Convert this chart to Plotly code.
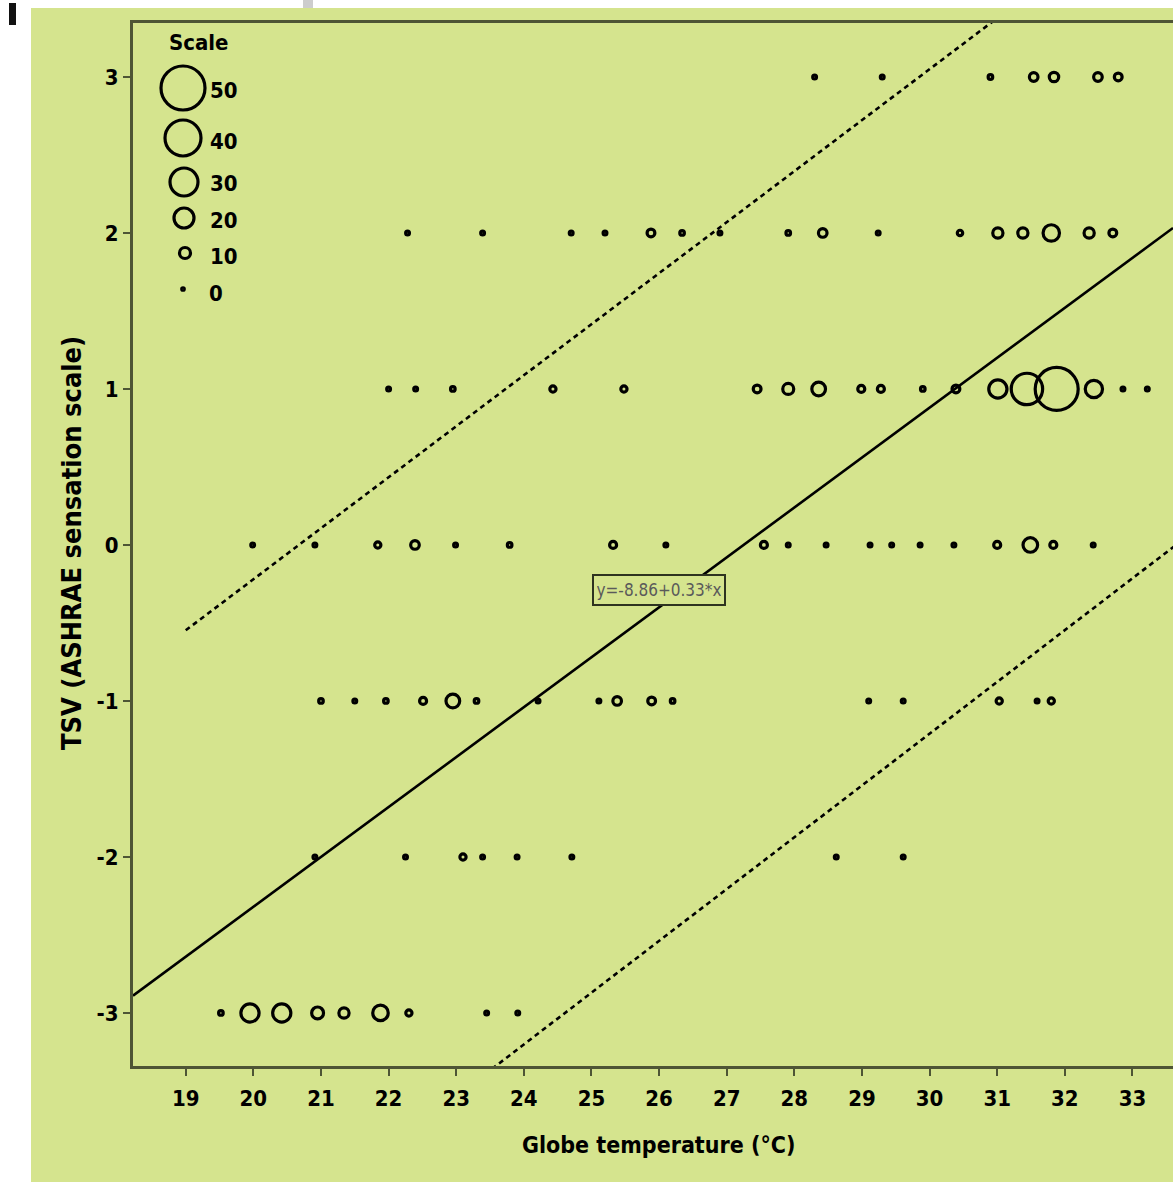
import numpy as np
import plotly.graph_objects as go

W, H = 1173, 1182

# ---------------- data ----------------
tsv_levels = [3, 2, 1, 0, -1, -2, -3]
tsv_tick_text = ["3", "2", "1", "0", "-1", "-2", "-3"]
x_ticks = list(range(19, 34))

temps_p3 = [28.3, 29.3, 30.9, 31.54, 31.84, 32.49, 32.79]
counts_p3 = [1, 1, 2, 7, 8, 7, 6]

temps_p2 = [22.28, 23.39, 24.70, 25.20, 25.88, 26.34, 26.90, 27.91, 28.42, 29.24,
            30.45, 31.01, 31.38, 31.80, 32.36, 32.71]
counts_p2 = [1, 1, 1, 1, 6, 2, 1, 2, 7, 1, 3, 9, 9, 16, 9, 6]

temps_p1 = [22.00, 22.40, 22.95, 24.43, 25.48, 27.45, 27.91, 28.36, 28.99, 29.28,
            29.90, 30.39, 31.01, 31.44, 31.88, 32.43, 32.86, 33.22]
counts_p1 = [1, 1, 2, 4, 4, 6, 10, 13, 5, 5, 2, 6, 18, 33, 50, 17, 1, 1]

temps_0 = [19.99, 20.91, 21.84, 22.39, 22.99, 23.79, 25.32, 26.10, 27.55, 27.91,
           28.47, 29.12, 29.44, 29.86, 30.36, 31.00, 31.49, 31.83, 32.42]
counts_0 = [1, 1, 4, 7, 1, 2, 5, 1, 5, 1, 1, 1, 1, 1, 1, 5, 14, 5, 1]

temps_m1 = [21.00, 21.50, 21.96, 22.51, 22.95, 23.30, 24.21, 25.11, 25.38, 25.89,
            26.20, 29.10, 29.61, 31.03, 31.59, 31.80]
counts_m1 = [2, 1, 2, 5, 13, 2, 1, 1, 7, 6, 2, 1, 1, 4, 1, 4]

temps_m2 = [20.91, 22.25, 23.10, 23.39, 23.90, 24.71, 28.62, 29.61]
counts_m2 = [1, 1, 4, 1, 1, 1, 1, 1]

temps_m3 = [19.52, 19.95, 20.42, 20.95, 21.34, 21.88, 22.30, 23.45, 23.91]
counts_m3 = [2, 18, 18, 11, 9, 15, 4, 1, 1]

# fitted line (as drawn) and the two interval lines
fit_intercept, fit_slope = -8.72, 0.32
upper_intercept, upper_slope = -6.76, 0.327
lower_intercept, lower_slope = -11.17, 0.332
fit_label = "y=-8.86+0.33*x"

scale_counts = [50, 40, 30, 20, 10, 0]
scale_labels = ["50", "40", "30", "20", "10", "0"]

# ---------------- style ----------------
GREEN = "#d5e48e"
INK = "#000000"
AXIS = "#4e5535"
FONT = "Liberation Sans Narrow, DejaVu Sans Condensed, Liberation Sans, Arial"
size_counts = [0, 10, 20, 30, 40, 50]
size_diam = [3, 11, 20, 29, 37, 43]
MLW = 3.2


def diam(c):
    return list(np.interp(c, size_counts, size_diam))


def px(x):
    return x / W


def py(y):
    return 1 - y / H


x_lo, x_hi = 18.22, 33.6
y_lo, y_hi = -3.34, 3.346

fig = go.Figure()

rows = [
    (3, temps_p3, counts_p3), (2, temps_p2, counts_p2), (1, temps_p1, counts_p1),
    (0, temps_0, counts_0), (-1, temps_m1, counts_m1), (-2, temps_m2, counts_m2),
    (-3, temps_m3, counts_m3),
]
for lvl, t, c in rows:
    fig.add_trace(go.Scatter(
        x=t, y=[lvl] * len(t), mode="markers",
        marker=dict(symbol="circle", size=diam(c), color="rgba(0,0,0,0)",
                    opacity=1, line=dict(width=MLW, color=INK)),
        showlegend=False, hoverinfo="skip"))

# lines
xs_fit = np.array([x_lo, x_hi])
fig.add_trace(go.Scatter(x=xs_fit, y=fit_intercept + fit_slope * xs_fit, mode="lines",
                         line=dict(color=INK, width=2.6), showlegend=False))
xs_up = np.array([19.0, 34.0])
fig.add_trace(go.Scatter(x=xs_up, y=upper_intercept + upper_slope * xs_up, mode="lines",
                         line=dict(color=INK, width=2.6, dash="5px,4px"), showlegend=False))
xs_low = np.array([23.0, 34.0])
fig.add_trace(go.Scatter(x=xs_low, y=lower_intercept + lower_slope * xs_low, mode="lines",
                         line=dict(color=INK, width=2.6, dash="5px,4px"), showlegend=False))

# scale legend on a pixel-coordinate overlay subplot
leg_x = [183, 183, 184, 184, 185, 183]
leg_y = [88, 138, 182, 218, 253, 289]
fig.add_trace(go.Scatter(
    x=leg_x, y=leg_y, xaxis="x2", yaxis="y2", mode="markers",
    marker=dict(symbol="circle", size=[44, 36, 28, 20, 11, 2.5], color="rgba(0,0,0,0)",
                opacity=1, line=dict(width=MLW, color=INK)),
    showlegend=False, hoverinfo="skip", cliponaxis=False))

ann = []
ann.append(dict(x=px(199), y=py(43), xref="paper", yref="paper", text="Scale",
                xanchor="center", yanchor="middle", showarrow=False,
                font=dict(family=FONT, size=22, color=INK, weight="bold")))
lab_pos = [(224, 91), (224, 142), (224, 184), (224, 220), (224, 256), (216, 293)]
for (lx, ly), s in zip(lab_pos, scale_labels):
    ann.append(dict(x=px(lx), y=py(ly), xref="paper", yref="paper", text=s,
                    xanchor="center", yanchor="middle", showarrow=False,
                    font=dict(family=FONT, size=22, color=INK, weight="bold")))

ann.append(dict(x=px(658), y=py(1145), xref="paper", yref="paper",
                text="Globe temperature (°C)", showarrow=False,
                xanchor="center", yanchor="middle",
                font=dict(family=FONT, size=23, color=INK, weight="bold")))
ann.append(dict(x=px(71), y=py(543), xref="paper", yref="paper",
                text="TSV (ASHRAE sensation scale)", showarrow=False, textangle=-90,
                xanchor="center", yanchor="middle",
                font=dict(family=FONT, size=27, color=INK, weight="bold")))
ann.append(dict(x=px(659), y=py(590), xref="paper", yref="paper", text=fit_label,
                xanchor="center", yanchor="middle",
                showarrow=False, width=124, height=22, borderpad=3,
                bordercolor="#2e3320", borderwidth=2, bgcolor=GREEN,
                font=dict(family=FONT, size=17, color="#5a5a5a")))

shapes = [
    dict(type="rect", xref="paper", yref="paper", x0=px(31), x1=1, y0=0, y1=py(8),
         fillcolor=GREEN, line=dict(width=0), layer="below"),
    dict(type="rect", xref="paper", yref="paper", x0=px(303), x1=px(313), y0=py(8), y1=1,
         fillcolor="#cdcdcd", line=dict(width=0), layer="below"),
    dict(type="rect", xref="paper", yref="paper", x0=px(9), x1=px(16), y0=py(25), y1=py(3),
         fillcolor="#111111", line=dict(width=0), layer="below"),
]

tickfont = dict(family=FONT, size=22, color=INK, weight="bold")
fig.update_layout(
    width=W, height=H, margin=dict(l=0, r=0, t=0, b=0),
    paper_bgcolor="white", plot_bgcolor="rgba(0,0,0,0)",
    showlegend=False, annotations=ann, shapes=shapes,
    xaxis=dict(domain=[px(133), 1], range=[x_lo, x_hi], tickmode="array",
               tickvals=x_ticks, ticktext=[str(v) for v in x_ticks],
               ticks="outside", ticklen=7, tickwidth=2, tickcolor=AXIS,
               showline=True, linecolor=AXIS, linewidth=3, mirror=True,
               showgrid=False, zeroline=False, tickfont=tickfont,
               ticklabelstandoff=4),
    yaxis=dict(domain=[py(1066), py(23)], range=[y_lo, y_hi], tickmode="array",
               tickvals=tsv_levels, ticktext=tsv_tick_text,
               ticks="outside", ticklen=7, tickwidth=2, tickcolor=AXIS,
               showline=True, linecolor=AXIS, linewidth=3, mirror=False,
               showgrid=False, zeroline=False, tickfont=tickfont),
    xaxis2=dict(domain=[0, 1], range=[0, W], visible=False, anchor="y2"),
    yaxis2=dict(domain=[0, 1], range=[H, 0], visible=False, anchor="x2"),
)

fig.write_html("out.html")
